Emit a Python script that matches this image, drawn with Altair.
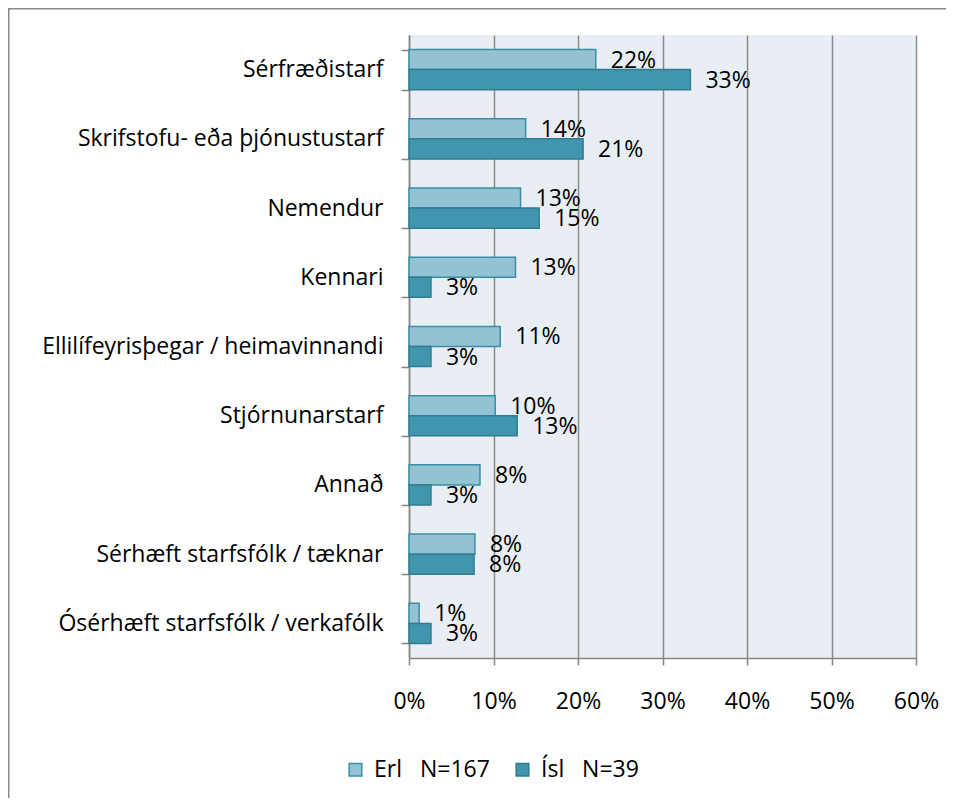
import altair as alt
import pandas as pd

categories = [
    "Sérfræðistarf",
    "Skrifstofu- eða þjónustustarf",
    "Nemendur",
    "Kennari",
    "Ellilífeyrisþegar / heimavinnandi",
    "Stjórnunarstarf",
    "Annað",
    "Sérhæft starfsfólk / tæknar",
    "Ósérhæft starfsfólk / verkafólk",
]
series_names = ["Erl\u00a0\u00a0\u00a0N=167", "Ísl\u00a0\u00a0\u00a0N=39"]
erl_values = [0.221, 0.138, 0.132, 0.126, 0.108, 0.102, 0.084, 0.078, 0.012]
isl_values = [0.333, 0.206, 0.154, 0.026, 0.026, 0.128, 0.026, 0.077, 0.026]
x_ticks = [0, 0.1, 0.2, 0.3, 0.4, 0.5, 0.6]

fills = ["#93c3d3", "#4196ae"]
strokes = ["#3a8ea5", "#2e7d92"]

rows = []
for c, e, i in zip(categories, erl_values, isl_values):
    rows.append({"cat": c, "series": series_names[0], "value": e})
    rows.append({"cat": c, "series": series_names[1], "value": i})
df = pd.DataFrame(rows)

FONT = "Open Sans"
FS = 23

y_enc = alt.Y(
    "cat:N",
    sort=categories,
    title=None,
    scale=alt.Scale(paddingInner=0.42, paddingOuter=0.21),
    axis=alt.Axis(
        tickBand="extent",
        tickSize=8,
        tickColor="#868686",
        tickWidth=1.5,
        domainColor="#868686",
        domainWidth=1.5,
        labelFont=FONT,
        labelFontSize=FS,
        labelColor="#000000",
        labelPadding=18,
        labelLimit=500,
        grid=False,
    ),
)
yoff = alt.YOffset(
    "series:N",
    sort=series_names,
    scale=alt.Scale(paddingInner=0, paddingOuter=0),
)
x_enc = alt.X(
    "value:Q",
    title=None,
    scale=alt.Scale(domain=[0, 0.6], nice=False),
    axis=alt.Axis(
        values=x_ticks,
        format=".0%",
        grid=True,
        gridColor="#8c8c8c",
        gridWidth=1.5,
        tickSize=7,
        tickColor="#868686",
        tickWidth=1.5,
        domainColor="#868686",
        domainWidth=1.5,
        labelFont=FONT,
        labelFontSize=FS,
        labelColor="#000000",
        labelPadding=25,
        labelFlush=False,
        labelOverlap=False,
    ),
)

base = alt.Chart(df)

bars = base.mark_bar(strokeWidth=1.5).encode(
    y=y_enc,
    yOffset=yoff,
    x=x_enc,
    fill=alt.Fill(
        "series:N",
        sort=series_names,
        scale=alt.Scale(domain=series_names, range=fills),
        legend=alt.Legend(
            title=None,
            orient="none",
            direction="horizontal",
            legendX=-65,
            legendY=723,
            symbolType="square",
            symbolSize=160,
            symbolStrokeWidth=1.5,
            labelFont=FONT,
            labelFontSize=FS,
            labelColor="#000000",
            labelLimit=400,
            labelOffset=7,
            columnPadding=21,
        ),
    ),
    stroke=alt.Stroke(
        "series:N",
        sort=series_names,
        scale=alt.Scale(domain=series_names, range=strokes),
        legend=None,
    ),
)

labels = base.mark_text(
    align="left", baseline="middle", dx=15, dy=1, font=FONT, fontSize=FS, color="#000000"
).encode(
    y=alt.Y("cat:N", sort=categories),
    yOffset=yoff,
    x=alt.X("value:Q"),
    text=alt.Text("value:Q", format=".0%"),
)

border = alt.Chart(pd.DataFrame({"a": [0]})).mark_rect(
    fill="transparent", stroke="#8a8a8a", strokeWidth=2
).encode(
    x=alt.value(-400.5),
    x2=alt.value(600),
    y=alt.value(-26.5),
    y2=alt.value(820),
)

chart = (
    alt.layer(border, bars, labels)
    .properties(
        width=507,
        height=623,
        autosize=alt.AutoSizeParams(type="none"),
        padding={"left": 401, "top": 27, "right": 30, "bottom": 140},
        background="#ffffff",
    )
    .configure_view(fill="#e8eef4", stroke="transparent", strokeWidth=0)
)

chart.save("out.html", embed_options={"renderer": "svg", "actions": False})
